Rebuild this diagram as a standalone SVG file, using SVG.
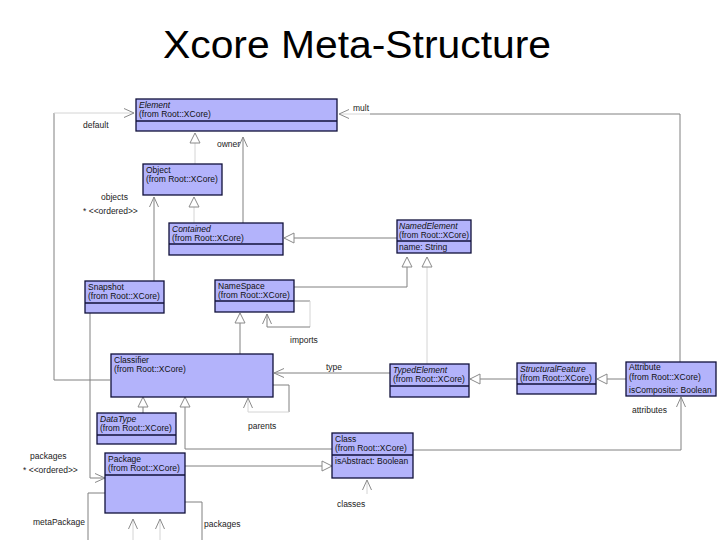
<svg xmlns="http://www.w3.org/2000/svg" width="720" height="540" viewBox="0 0 720 540">
<defs>
<style>
.box{fill:#b3b3fb;stroke:#10103a;stroke-width:1.3}
.div{stroke:#10103a;stroke-width:1.3}
.t{font-family:"Liberation Sans",Arial,sans-serif;font-size:8.5px;fill:#111}
.i{font-style:italic}
.lbl{font-family:"Liberation Sans",Arial,sans-serif;font-size:8.5px;fill:#222}
.c{fill:none;stroke:#808080;stroke-width:1}
.f{fill:none;stroke:#d4d4d4;stroke-width:1}
.title{font-family:"Liberation Sans",Arial,sans-serif;font-size:38px;fill:#000}
</style>
<marker id="open" markerUnits="userSpaceOnUse" markerWidth="14" markerHeight="12" refX="11" refY="5" orient="auto">
<path d="M1,0.5 L11,5 L1,9.5" fill="none" stroke="#8a8a8a" stroke-width="1"/>
</marker>
<marker id="tri" markerUnits="userSpaceOnUse" markerWidth="14" markerHeight="14" refX="11" refY="6" orient="auto">
<path d="M1,1 L11,6 L1,11 Z" fill="#fff" stroke="#8a8a8a" stroke-width="1"/>
</marker>
</defs>
<rect width="720" height="540" fill="#fff"/>
<text class="title" x="163" y="58" textLength="388" lengthAdjust="spacingAndGlyphs">Xcore Meta-Structure</text>

<g id="connectors">
<path class="f" d="M195,164 L195,133" marker-end="url(#tri)"/>
<path class="c" d="M243,223 L243,137" marker-end="url(#open)"/>
<path class="f" d="M194,223 L194,197" marker-end="url(#tri)"/>
<path class="c" d="M154,281 L154,197" marker-end="url(#open)"/>
<path class="c" d="M110,380 L54,380 L54,113"/>
<path class="f" d="M54,113 L134,113" marker-end="url(#open)"/>
<path class="c" d="M680,362 L680,114 L370,114"/>
<path class="f" d="M370,114 L339,114" marker-end="url(#open)"/>
<path class="c" d="M397,238 L284,238" marker-end="url(#tri)"/>
<path class="c" d="M294,287 L407,287 L407,257" marker-end="url(#tri)"/>
<path class="f" d="M427,364 L427,257" marker-end="url(#tri)"/>
<path class="c" d="M294,301 L310,301"/>
<path class="f" d="M310,301 L310,327"/>
<path class="c" d="M310,327 L267,327 L267,314" marker-end="url(#open)"/>
<path class="c" d="M240,354 L240,313" marker-end="url(#tri)"/>
<path class="c" d="M90,313 L90,478 L105,478" marker-end="url(#open)"/>
<path class="c" d="M105,493 L88,493 L88,540"/>
<path class="f" d="M133,540 L133,519" marker-end="url(#open)"/>
<path class="f" d="M160,540 L160,519" marker-end="url(#open)"/>
<path class="c" d="M185,502 L202,502 L202,540"/>
<path class="c" d="M185,466 L332,466" marker-end="url(#tri)"/>
<path class="c" d="M143,413 L143,397" marker-end="url(#tri)"/>
<path class="c" d="M332,449 L185,449 L185,397" marker-end="url(#tri)"/>
<path class="c" d="M273,385 L289,385 L289,412"/>
<path class="f" d="M289,412 L248,412 L248,398" marker-end="url(#open)"/>
<path class="c" d="M390,373 L274,373" marker-end="url(#open)"/>
<path class="c" d="M517,379 L470,379" marker-end="url(#tri)"/>
<path class="c" d="M626,379 L597,379" marker-end="url(#tri)"/>
<path class="c" d="M413,450 L681,450 L681,397" marker-end="url(#open)"/>
<path class="f" d="M367,494 L367,480" marker-end="url(#open)"/>
</g>

<g id="labels">
<text class="lbl" x="83" y="128">default</text>
<text class="lbl" x="353" y="111">mult</text>
<text class="lbl" x="217" y="147">owner</text>
<text class="lbl" x="101" y="200">objects</text>
<text class="lbl" x="83" y="214">* &lt;&lt;ordered&gt;&gt;</text>
<text class="lbl" x="290" y="343">imports</text>
<text class="lbl" x="326" y="370">type</text>
<text class="lbl" x="248" y="429">parents</text>
<text class="lbl" x="632" y="413">attributes</text>
<text class="lbl" x="337" y="507">classes</text>
<text class="lbl" x="30" y="459">packages</text>
<text class="lbl" x="23" y="473">* &lt;&lt;ordered&gt;&gt;</text>
<text class="lbl" x="33" y="525">metaPackage</text>
<text class="lbl" x="204" y="527">packages</text>
</g>

<g id="Element">
<rect class="box" x="136" y="99" width="201" height="32"/>
<line class="div" x1="136" y1="121" x2="337" y2="121"/>
<text class="t i" x="139" y="108">Element</text>
<text class="t" x="139" y="117">(from Root::XCore)</text>
</g>
<g id="Object">
<rect class="box" x="143" y="164" width="79" height="31"/>
<text class="t" x="146" y="172.5">Object</text>
<text class="t" x="146" y="182">(from Root::XCore)</text>
</g>
<g id="Contained">
<rect class="box" x="169" y="223" width="114" height="32"/>
<line class="div" x1="169" y1="244" x2="283" y2="244"/>
<text class="t i" x="172" y="231.5">Contained</text>
<text class="t" x="172" y="241">(from Root::XCore)</text>
</g>
<g id="NamedElement">
<rect class="box" x="397" y="220" width="74" height="33"/>
<line class="div" x1="397" y1="241" x2="471" y2="241"/>
<text class="t i" x="399" y="228.5">NamedElement</text>
<text class="t" x="399" y="238" textLength="70" lengthAdjust="spacingAndGlyphs">(from Root::XCore)</text>
<text class="t" x="399" y="250">name: String</text>
</g>
<g id="Snapshot">
<rect class="box" x="85" y="281" width="79" height="32"/>
<line class="div" x1="85" y1="303" x2="164" y2="303"/>
<text class="t" x="88" y="289.5">Snapshot</text>
<text class="t" x="88" y="299">(from Root::XCore)</text>
</g>
<g id="NameSpace">
<rect class="box" x="215" y="280" width="79" height="32"/>
<line class="div" x1="215" y1="301" x2="294" y2="301"/>
<text class="t" x="218" y="288.5">NameSpace</text>
<text class="t" x="218" y="298">(from Root::XCore)</text>
</g>
<g id="Classifier">
<rect class="box" x="111" y="354" width="162" height="43"/>
<text class="t" x="114" y="362.5">Classifier</text>
<text class="t" x="114" y="372">(from Root::XCore)</text>
</g>
<g id="DataType">
<rect class="box" x="97" y="413" width="79" height="31"/>
<line class="div" x1="97" y1="435" x2="176" y2="435"/>
<text class="t i" x="100" y="421.5">DataType</text>
<text class="t" x="100" y="431">(from Root::XCore)</text>
</g>
<g id="Package">
<rect class="box" x="105" y="453" width="80" height="60"/>
<line class="div" x1="105" y1="475" x2="185" y2="475"/>
<text class="t" x="108" y="461.5">Package</text>
<text class="t" x="108" y="471">(from Root::XCore)</text>
</g>
<g id="TypedElement">
<rect class="box" x="390" y="364" width="79" height="33"/>
<line class="div" x1="390" y1="386" x2="469" y2="386"/>
<text class="t i" x="393" y="372.5">TypedElement</text>
<text class="t" x="393" y="382">(from Root::XCore)</text>
</g>
<g id="StructuralFeature">
<rect class="box" x="517" y="363" width="79" height="31"/>
<line class="div" x1="517" y1="384" x2="596" y2="384"/>
<text class="t i" x="520" y="371.5">StructuralFeature</text>
<text class="t" x="520" y="381">(from Root::XCore)</text>
</g>
<g id="Attribute">
<rect class="box" x="626" y="362" width="90" height="34"/>
<text class="t" x="629" y="370">Attribute</text>
<text class="t" x="629" y="380">(from Root::XCore)</text>
<text class="t" x="629" y="393">isComposite: Boolean</text>
</g>
<g id="Class">
<rect class="box" x="332" y="433" width="81" height="45"/>
<line class="div" x1="332" y1="455" x2="413" y2="455"/>
<text class="t" x="335" y="441.5">Class</text>
<text class="t" x="335" y="451">(from Root::XCore)</text>
<text class="t" x="335" y="464">isAbstract: Boolean</text>
</g>
</svg>
